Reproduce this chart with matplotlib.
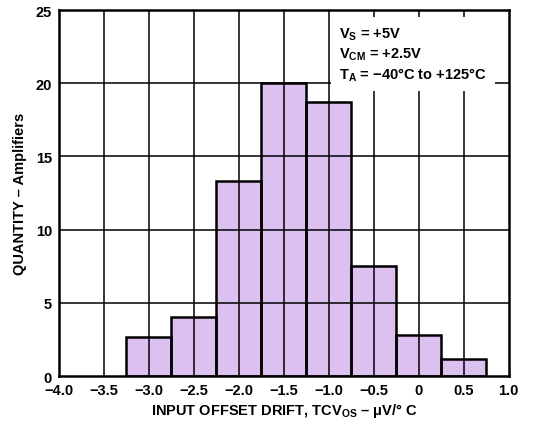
import matplotlib.pyplot as plt
import numpy as np

plt.rcParams['font.family'] = ['Liberation Sans', 'DejaVu Sans']
plt.rcParams['font.weight'] = 'bold'
plt.rcParams['mathtext.fontset'] = 'custom'
plt.rcParams['mathtext.bf'] = 'Liberation Sans:bold'
plt.rcParams['mathtext.rm'] = 'Liberation Sans:bold'
plt.rcParams['mathtext.default'] = 'bf'

# histogram bins (left edges) and counts
bin_left = [-3.25, -2.75, -2.25, -1.75, -1.25, -0.75, -0.25, 0.25]
counts = [2.7, 4.0, 13.3, 20.0, 18.7, 7.5, 2.8, 1.15]
bin_width = 0.5

xticks = [-4.0, -3.5, -3.0, -2.5, -2.0, -1.5, -1.0, -0.5, 0.0, 0.5, 1.0]
xtick_labels = ['\u22124.0', '\u22123.5', '\u22123.0', '\u22122.5', '\u22122.0',
                '\u22121.5', '\u22121.0', '\u22120.5', '0', '0.5', '1.0']
yticks = [0, 5, 10, 15, 20, 25]

fs = 10.5

fig = plt.figure(figsize=(5.35, 4.27), dpi=100)
ax = fig.add_axes([0.110, 0.117, 0.841, 0.857])

# fill first, then grid, then the black bar outlines on top
ax.bar(bin_left, counts, width=bin_width, align='edge', color='#dbc0f0',
       edgecolor='none', linewidth=0, zorder=0)
ax.vlines(xticks[1:-1], 0, 25, colors='black', linewidth=1.1, zorder=10)
ax.hlines(yticks[1:-1], -4.0, 1.0, colors='black', linewidth=1.1, zorder=10)
ax.bar(bin_left, counts, width=bin_width, align='edge', fill=False,
       edgecolor='black', linewidth=1.8, zorder=11)

ax.set_xlim(-4.0, 1.0)
ax.set_ylim(0, 25)
ax.set_xticks(xticks)
ax.set_xticklabels(xtick_labels, fontsize=fs, fontweight='bold')
ax.set_yticks(yticks)
ax.set_yticklabels([str(t) for t in yticks], fontsize=fs, fontweight='bold')
ax.tick_params(length=0, pad=5)
for s in ax.spines.values():
    s.set_linewidth(1.8)
    s.set_zorder(20)

ax.set_xlabel('INPUT OFFSET DRIFT, TCV$_{OS}$ \u2013 \u03bcV/\u00b0 C',
              fontsize=fs, fontweight='bold', labelpad=3)
ax.set_ylabel('QUANTITY \u2013 Amplifiers', fontsize=fs, fontweight='bold', labelpad=6)

ax.text(0.623, 0.958,
        'V$_{S}$ = +5V\nV$_{CM}$ = +2.5V\nT$_{A}$ = \u221240\u00b0C to +125\u00b0C',
        transform=ax.transAxes, fontsize=fs, fontweight='bold', va='top', ha='left',
        linespacing=1.3, zorder=15,
        bbox=dict(facecolor='white', edgecolor='none', pad=6))

fig.savefig('out.png', dpi=100)
